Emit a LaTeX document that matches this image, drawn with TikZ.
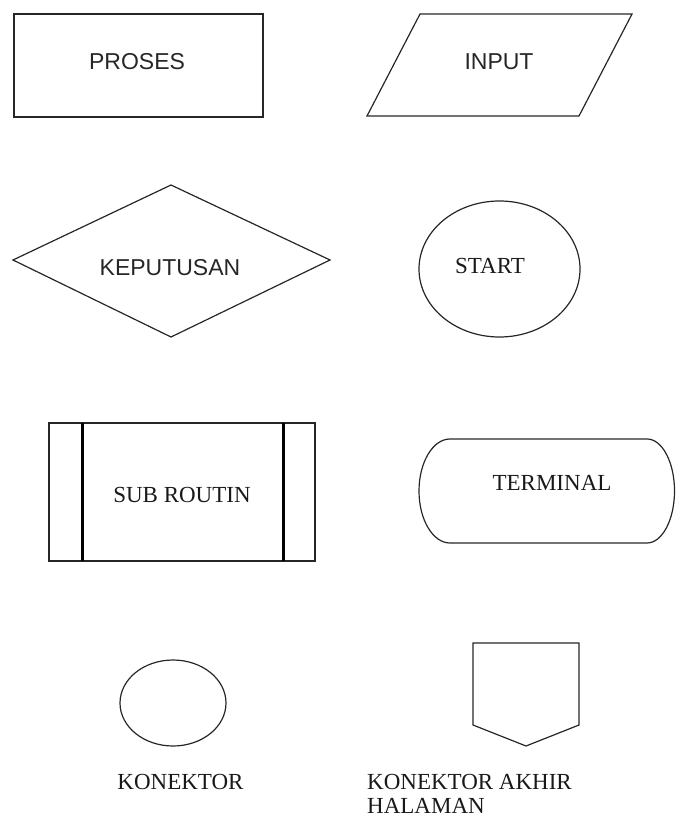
\documentclass[tikz,border=0pt]{standalone}
\usepackage{fontspec}
\setmainfont{Liberation Serif}
\newfontfamily\arialf{Liberation Sans}
\begin{document}
\begin{tikzpicture}[x=1pt,y=-1pt,
  shapeline/.style={draw=black!85, line width=1.2pt, line join=miter},
  thickline/.style={draw=black, line width=3pt},
  sanslabel/.style={font=\arialf\fontsize{23}{27}\selectfont, inner sep=0pt, text=black!85},
  seriflabel/.style={font=\fontsize{23}{26}\selectfont, inner sep=0pt, text=black!90}]
\useasboundingbox (0,0) rectangle (675,818);
% PROSES
\draw[shapeline] (14,14) rectangle (263,117);
\node[sanslabel] (proses) at (137,62) {PROSES};
% INPUT
\draw[shapeline] (420,14) -- (632,14) -- (579,116) -- (367,116) -- cycle;
\node[sanslabel] (input) at (499,62) {INPUT};
% KEPUTUSAN
\draw[shapeline] (171,185) -- (330,260) -- (171,337) -- (13,260) -- cycle;
\node[sanslabel] (keputusan) at (170,268) {KEPUTUSAN};
% START
\draw[shapeline] (499.5,269) ellipse [x radius=80.5pt, y radius=68pt];
\node[seriflabel] (start) at (490,266) {START};
% SUB ROUTIN
\draw[shapeline] (49,423) rectangle (315,561);
\draw[thickline] (82,423) -- (82,561);
\draw[thickline] (283,423) -- (283,561);
\node[seriflabel] (subroutin) at (182,495) {SUB ROUTIN};
% TERMINAL
\draw[shapeline] (450,439) -- (647,439)
  arc[start angle=90, end angle=-90, x radius=27.5pt, y radius=52pt]
  -- (450,543)
  arc[start angle=270, end angle=90, x radius=31pt, y radius=52pt] -- cycle;
\node[seriflabel] (terminal) at (552,483) {TERMINAL};
% KONEKTOR
\draw[shapeline] (173,703) ellipse [x radius=53pt, y radius=43pt];
\node[seriflabel] (konektor) at (180.5,782) {KONEKTOR};
% KONEKTOR AKHIR HALAMAN
\draw[shapeline] (473,643) -- (579,643) -- (579,725) -- (526,746) -- (473,725) -- cycle;
\node[seriflabel, anchor=west] (akhir1) at (367,782) {KONEKTOR AKHIR};
\node[seriflabel, anchor=west] (akhir2) at (367,805.5) {HALAMAN};
\end{tikzpicture}
\end{document}
